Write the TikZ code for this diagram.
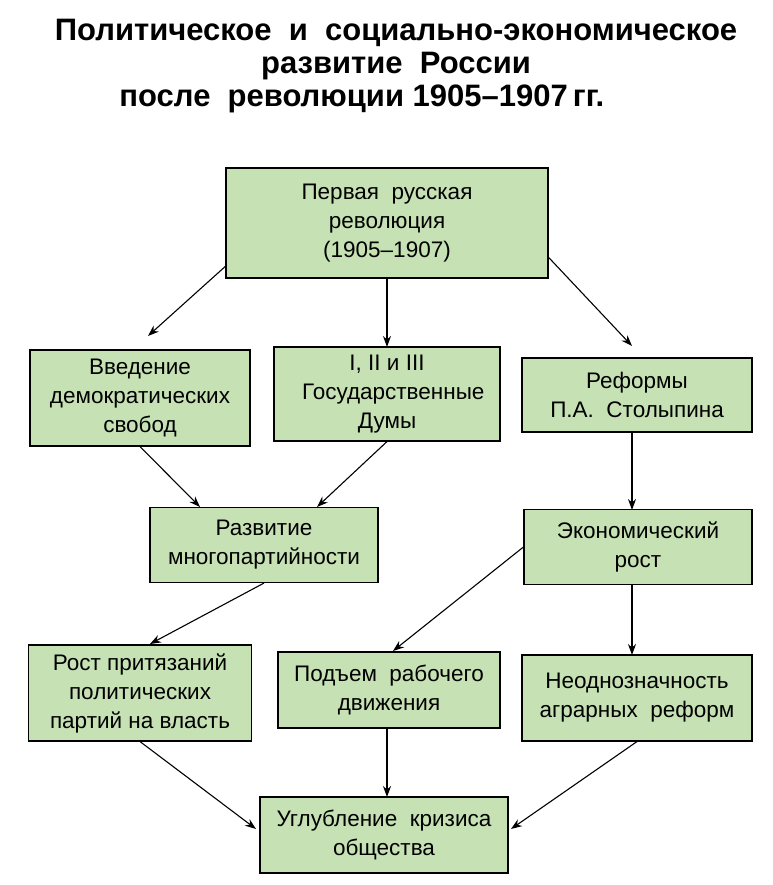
\documentclass[tikz,border=0pt]{standalone}
\usepackage{fontspec}
\setmainfont{Liberation Sans}
\usetikzlibrary{arrows.meta}
\begin{document}
\begin{tikzpicture}[x=1pt,y=-1pt,
  bx/.style={draw=black,line width=1.1pt,fill=boxgreen,align=center,font=\fontsize{22.5}{29}\selectfont,inner sep=0pt},
  arr/.style={-{Stealth[length=11pt,width=8pt]},line width=1.1pt}]
\definecolor{boxgreen}{HTML}{C6E2B4}
\useasboundingbox (0,0) rectangle (772,885);
\node[font=\bfseries\fontsize{31}{33}\selectfont,align=center] (title) at (396,66) {Политическое\ \ и\ \ социально-экономическое\\развитие\ \ России\\\hspace*{-2.2em}после\ \ революции 1905--1907\,гг.};
\node[bx,minimum width=322,minimum height=110] (a) at (387,223) {Первая\ \ русская\\революция\\(1905--1907)};
\node[bx,minimum width=220,minimum height=96] (b) at (140,398) {Введение\\демократических\\свобод};
\node[bx,minimum width=226,minimum height=94] (c) at (387,394) {I, II и III\\\ \ Государственные\\Думы};
\node[bx,minimum width=230,minimum height=74] (d) at (637,395) {Реформы\\П.А.\ \ Столыпина};
\node[bx,minimum width=228,minimum height=75] (e) at (264,545) {Развитие\\многопартийности};
\node[bx,minimum width=228,minimum height=75] (f) at (638,547) {Экономический\\рост};
\node[bx,minimum width=223,minimum height=96] (g) at (140,693) {Рост\ притязаний\\политических\\партий на власть};
\node[bx,minimum width=222,minimum height=76] (h) at (389,690) {Подъем\ \ рабочего\\движения};
\node[bx,minimum width=230,minimum height=86] (i) at (637,698) {Неоднозначность\\аграрных\ \ реформ};
\node[bx,minimum width=248,minimum height=76] (j) at (384,835) {Углубление\ \ кризиса\\общества};
\draw[arr] (a.195) -- (148,336);
\draw[arr] (387,278) -- (387,347);
\draw[arr] (a.-12) -- (632,346);
\draw[arr] (b.south) -- (200,507);
\draw[arr] (c.south) -- (317,507);
\draw[arr] (632,432) -- (632,510);
\draw[arr] (e.south) -- (150,644);
\draw[arr] (f.west) -- (393,651);
\draw[arr] (632,585) -- (632,655);
\draw[arr] (g.south) -- (256,829);
\draw[arr] (387,728) -- (387,797);
\draw[arr] (i.south) -- (511,829);
\end{tikzpicture}
\end{document}
